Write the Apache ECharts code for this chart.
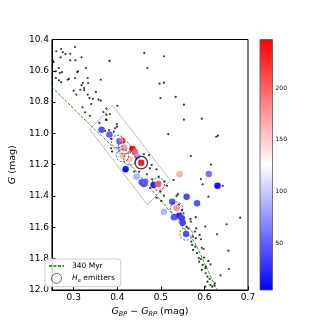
<!DOCTYPE html>
<html>
<head>
<meta charset="utf-8">
<script src="https://cdn.jsdelivr.net/npm/echarts@6/dist/echarts.min.js"></script>
<style>
  html, body { margin: 0; padding: 0; background: #fff; }
  #chart { width: 332px; height: 332px; }
</style>
</head>
<body>
<div id="chart"></div>
<script>
// cluster CMD: x = G_BP - G_RP (mag), y = G (mag)

// field / member stars without a colour value
const fieldStars = [
  [0.260, 10.475], [0.271, 10.461], [0.275, 10.480], [0.281, 10.493], [0.292, 10.491],
  [0.303, 10.448], [0.270, 10.514], [0.252, 10.535], [0.254, 10.544], [0.292, 10.533],
  [0.304, 10.533], [0.318, 10.514], [0.328, 10.582], [0.382, 10.537], [0.462, 10.486],
  [0.469, 10.582], [0.259, 10.603], [0.266, 10.582], [0.268, 10.614], [0.273, 10.609],
  [0.310, 10.603], [0.308, 10.609], [0.259, 10.646], [0.266, 10.661], [0.271, 10.673],
  [0.286, 10.657], [0.289, 10.652], [0.303, 10.646], [0.332, 10.646], [0.362, 10.657],
  [0.321, 10.678], [0.318, 10.692], [0.333, 10.678], [0.324, 10.710], [0.324, 10.724],
  [0.300, 10.727], [0.315, 10.721], [0.351, 10.735], [0.306, 10.752], [0.332, 10.752],
  [0.336, 10.774], [0.344, 10.780], [0.357, 10.784], [0.362, 10.791], [0.340, 10.812],
  [0.320, 10.833], [0.337, 10.887], [0.326, 10.865], [0.375, 10.842], [0.368, 10.863],
  [0.375, 10.880], [0.383, 10.876], [0.400, 10.823], [0.374, 10.912], [0.359, 10.933],
  [0.399, 10.940],
  [0.507, 10.507], [0.497, 10.682], [0.507, 10.676], [0.499, 10.774], [0.534, 10.767],
  [0.553, 10.816], [0.553, 10.912], [0.594, 10.906], [0.627, 11.021], [0.631, 11.014],
  [0.569, 11.144], [0.615, 11.199], [0.517, 11.005], [0.592, 11.291], [0.596, 11.325],
  [0.609, 11.404], [0.642, 11.334], [0.682, 11.538], [0.651, 11.580], [0.629, 11.644],
  [0.655, 11.749], [0.656, 11.866], [0.637, 11.906],
  [0.375, 10.914], [0.399, 10.957], [0.381, 10.978], [0.392, 10.989], [0.372, 10.984],
  [0.395, 10.967], [0.386, 11.035], [0.388, 11.116], [0.386, 11.095], [0.473, 11.138],
  [0.461, 11.133], [0.479, 11.201], [0.475, 11.223], [0.439, 11.244], [0.450, 11.244],
  [0.490, 11.229], [0.495, 11.276], [0.480, 11.293], [0.468, 11.261], [0.475, 11.350],
  [0.507, 11.397], [0.529, 11.297], [0.514, 11.334], [0.490, 11.410], [0.508, 11.306],
  [0.499, 11.372], [0.501, 11.431], [0.536, 11.399], [0.539, 11.388], [0.541, 11.455],
  [0.548, 11.490],
  [0.552, 11.510], [0.568, 11.546], [0.580, 11.535], [0.602, 11.595], [0.574, 11.659],
  [0.580, 11.669], [0.592, 11.676], [0.570, 11.691], [0.572, 11.712], [0.579, 11.723],
  [0.574, 11.744], [0.594, 11.730], [0.598, 11.738], [0.583, 11.765], [0.587, 11.797],
  [0.592, 11.802], [0.588, 11.819], [0.599, 11.793], [0.609, 11.814], [0.596, 11.840],
  [0.603, 11.851], [0.594, 11.872], [0.602, 11.861], [0.614, 11.836], [0.603, 11.893],
  [0.607, 11.915], [0.612, 11.929], [0.607, 11.947], [0.614, 11.968], [0.618, 11.979],
  [0.623, 11.972], [0.624, 11.957], [0.602, 11.979], [0.578, 11.627], [0.581, 11.606],
  [0.559, 11.595], [0.563, 11.606], [0.569, 11.563], [0.589, 11.648]
];

// stars with colour value: [x, G, c]
const colouredStars = [
  [0.364, 10.976, 45], [0.382, 11.007, 50], [0.405, 11.050, 50], [0.412, 11.045, 190],
  [0.403, 11.099, 105], [0.416, 11.091, 175], [0.435, 11.100, 240], [0.441, 11.118, 200],
  [0.446, 11.148, 85], [0.412, 11.142, 160], [0.429, 11.163, 150], [0.455, 11.187, 235],
  [0.419, 11.229, 15], [0.444, 11.276, 90], [0.456, 11.312, 45], [0.461, 11.323, 40],
  [0.464, 11.308, 50], [0.483, 11.329, 30], [0.494, 11.323, 205], [0.543, 11.261, 165],
  [0.610, 11.259, 60], [0.630, 11.334, 15], [0.559, 11.404, 40], [0.583, 11.446, 45],
  [0.526, 11.436, 45], [0.507, 11.500, 90], [0.536, 11.478, 175], [0.530, 11.535, 45],
  [0.542, 11.525, 30], [0.548, 11.542, 35], [0.550, 11.570, 35], [0.558, 11.642, 40]
];

// H-alpha emitters (circled)
const haEmitters = [
  [0.401, 11.052], [0.416, 11.091], [0.412, 11.142], [0.429, 11.163],
  [0.455, 11.187], [0.494, 11.323], [0.536, 11.478], [0.558, 11.642]
];

// 340 Myr isochrone
const isochrone = [
  [0.250, 10.705], [0.333, 10.933], [0.416, 11.157], [0.493, 11.406],
  [0.541, 11.565], [0.574, 11.680], [0.602, 11.840], [0.629, 12.000]
];

// selection box corners (closed)
const selectionBox = [
  [0.389, 10.821], [0.522, 11.300], [0.469, 11.456], [0.337, 10.974], [0.389, 10.821]
];

const xTicks = [0.3, 0.4, 0.5, 0.6, 0.7];
const cbTicks = [50, 100, 150, 200];
const cbRange = [5, 247];
const bwr = ['#0000ff', '#ffffff', '#ff0000'];

const font = 'DejaVu Sans';
const green = '#22a322';
const chart = echarts.init(document.getElementById('chart'));

chart.setOption({
  animation: false,
  backgroundColor: '#fff',
  textStyle: { fontFamily: font },
  grid: [
    { left: 42, top: 39.5, width: 206, height: 250.5, show: true, borderColor: '#000', borderWidth: 1 },
    { left: 260, top: 39.5, width: 12.5, height: 250.5 }
  ],
  xAxis: [
    {
      type: 'value', gridIndex: 0, min: 0.25, max: 0.7,
      axisLine: { lineStyle: { color: '#000', width: 1 } },
      axisTick: { inside: true, length: 3.5, customValues: xTicks, lineStyle: { color: '#000' } },
      axisLabel: { customValues: xTicks, formatter: v => v.toFixed(1), color: '#000', fontSize: 9, margin: 3, fontFamily: font },
      splitLine: { show: false },
      name: '{i|G}{s|BP} − {i|G}{s|RP} (mag)',
      nameLocation: 'middle', nameGap: 13,
      nameTextStyle: {
        color: '#000', fontSize: 9.5, fontFamily: font,
        rich: {
          i: { fontStyle: 'italic', fontSize: 9.5, fontFamily: font, color: '#000' },
          s: { fontStyle: 'italic', fontSize: 6.5, fontFamily: font, color: '#000', padding: [5, 0, 0, 0] }
        }
      }
    },
    { type: 'value', gridIndex: 1, min: 0, max: 1, show: false }
  ],
  yAxis: [
    {
      type: 'value', gridIndex: 0, min: 10.4, max: 12.0, interval: 0.2, inverse: true,
      axisLine: { lineStyle: { color: '#000', width: 1 } },
      axisTick: { inside: true, length: 3.5, lineStyle: { color: '#000' } },
      axisLabel: { formatter: v => v.toFixed(1), color: '#000', fontSize: 9, margin: 3, fontFamily: font },
      splitLine: { show: false },
      name: '{i|G} (mag)',
      nameLocation: 'middle', nameGap: 25,
      nameTextStyle: {
        color: '#000', fontSize: 9.5, fontFamily: font,
        rich: { i: { fontStyle: 'italic', fontSize: 9.5, fontFamily: font, color: '#000' } }
      }
    },
    {
      type: 'value', gridIndex: 1, min: cbRange[0], max: cbRange[1], position: 'right',
      axisLine: { show: false },
      axisTick: { length: 2.5, customValues: cbTicks, lineStyle: { color: '#000', width: 0.8 } },
      axisLabel: { customValues: cbTicks, color: '#000', fontSize: 6, margin: 3, fontFamily: font },
      splitLine: { show: false }
    }
  ],
  visualMap: {
    show: false, seriesIndex: 3, dimension: 2,
    min: cbRange[0], max: cbRange[1],
    inRange: { color: bwr }
  },
  legend: {
    orient: 'vertical', left: 45, top: 259,
    itemWidth: 15, itemHeight: 10, itemGap: 3,
    padding: [3, 6, 3, 3],
    borderColor: '#ccc', borderWidth: 1, borderRadius: 3,
    backgroundColor: 'rgba(255,255,255,0.85)',
    textStyle: {
      color: '#000', fontSize: 7.5, fontFamily: font, padding: [0, 0, 0, 3],
      rich: {
        i: { fontStyle: 'italic', fontSize: 7.5, fontFamily: font, color: '#000' },
        s: { fontStyle: 'italic', fontSize: 5, fontFamily: font, color: '#000', padding: [4, 0, 0, 0] },
        n: { fontSize: 7.5, fontFamily: font, color: '#000' }
      }
    },
    formatter: name => name === 'Hα emitters' ? '{i|H}{s|α}{n| emitters}' : name,
    data: [
      { name: '340 Myr', itemStyle: { opacity: 0 } },
      {
        name: 'Hα emitters', icon: 'circle',
        itemStyle: { color: 'rgba(0,0,0,0)', borderColor: '#000', borderWidth: 0.7, borderType: 'solid' }
      }
    ]
  },
  series: [
    {
      name: 'box', type: 'line', data: selectionBox, showSymbol: false, symbol: 'none',
      lineStyle: { color: '#aaa', width: 0.8 }, silent: true, z: 1
    },
    {
      name: '340 Myr', type: 'line', data: isochrone, smooth: 0.3, showSymbol: false, symbol: 'none',
      itemStyle: { color: green },
      lineStyle: { color: green, width: 1, type: [3, 1.5] }, z: 2
    },
    {
      name: 'field', type: 'scatter', data: fieldStars, symbolSize: 2.2,
      itemStyle: { color: '#000' }, z: 3
    },
    {
      name: 'coloured', type: 'scatter', data: colouredStars, symbolSize: 6.5,
      itemStyle: { opacity: 1 }, z: 4
    },
    {
      name: 'Hα emitters', type: 'scatter', symbolSize: 12.5,
      data: haEmitters.map((p, i) => i === 4
        ? { value: p, itemStyle: { borderType: 'solid', borderWidth: 1.3 } }
        : p),
      itemStyle: { color: 'rgba(0,0,0,0)', borderColor: '#000', borderWidth: 0.8, borderType: [2, 1.5] },
      z: 5
    },
    {
      name: 'colorbar', type: 'custom', xAxisIndex: 1, yAxisIndex: 1,
      data: [[0, cbRange[0], cbRange[1]]],
      encode: { x: 0, y: [1, 2] },
      renderItem: (params, api) => {
        const top = api.coord([0, api.value(2)]);
        const bottom = api.coord([1, api.value(1)]);
        return {
          type: 'rect',
          shape: { x: top[0], y: top[1], width: bottom[0] - top[0], height: bottom[1] - top[1] },
          style: {
            fill: new echarts.graphic.LinearGradient(0, 0, 0, 1, [
              { offset: 0, color: bwr[2] },
              { offset: 0.5, color: bwr[1] },
              { offset: 1, color: bwr[0] }
            ]),
            stroke: '#555', lineWidth: 0.8
          }
        };
      }
    }
  ]
});
</script>
</body>
</html>
